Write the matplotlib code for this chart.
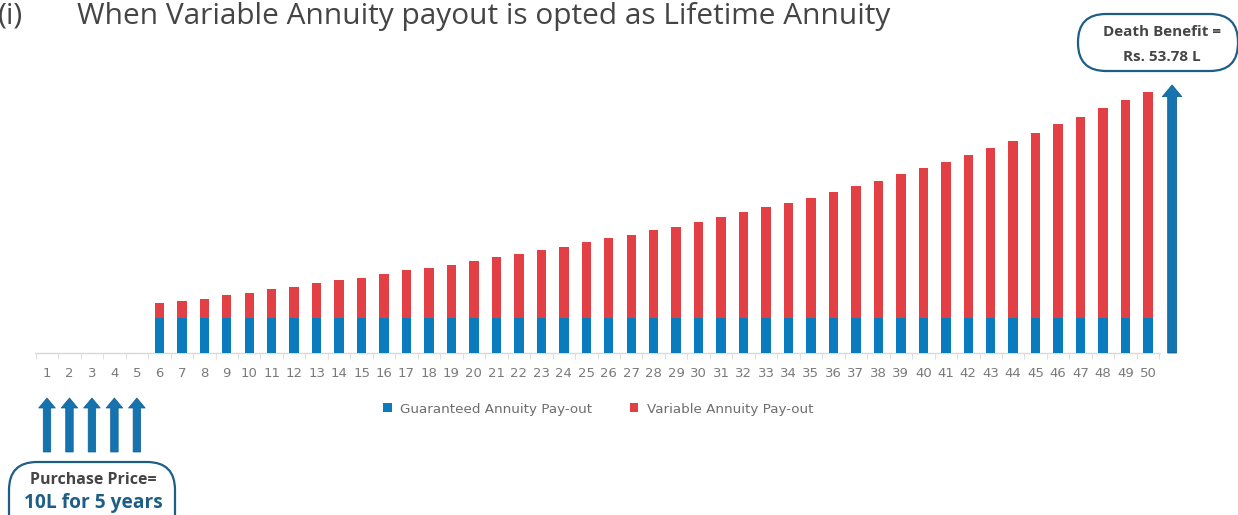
import matplotlib
matplotlib.use("Agg")
import matplotlib.pyplot as plt
from matplotlib.patches import FancyBboxPatch, FancyArrowPatch, ArrowStyle

# ---------------- data ----------------
years = list(range(1, 51))
guaranteed = [0, 0, 0, 0, 0] + [35] * 45
variable = [0, 0, 0, 0, 0,
            15, 17, 19, 23, 25, 29, 31, 35, 38, 40,
            44, 48, 50, 53, 57, 61, 64, 68, 71, 76,
            80, 83, 88, 91, 96, 101, 106, 111, 115, 120,
            126, 132, 137, 144, 150, 156, 163, 170, 177, 185,
            194, 201, 210, 218, 226]
purchase_years = [1, 2, 3, 4, 5]
death_benefit_pos = 51.07
death_benefit_height = 268
series_labels = ["Guaranteed Annuity Pay-out", "Variable Annuity Pay-out"]
title_prefix = "(i)"
title_text = "When Variable Annuity payout is opted as Lifetime Annuity"
death_lines = ["Death Benefit =", "Rs. 53.78 L"]
purchase_lines = ["Purchase Price=", "10L for 5 years"]

BLUE = "#0a7bbd"
RED = "#e24045"
ARROW = "#1573b0"
NAVY = "#1d5e86"
GRAY_TXT = "#454545"

W, H = 1238, 515
fig = plt.figure(figsize=(W / 100, H / 100), dpi=100)

base_px = 353
ax = fig.add_axes([0, (H - base_px) / H, 1, base_px / H])
x_per_px = 1 / 22.47
ax.set_xlim(1 - 47 * x_per_px, 1 + (W - 47) * x_per_px)
ax.set_ylim(0, base_px)

ax.bar(years, guaranteed, width=0.42, color=BLUE, label=series_labels[0], zorder=3)
ax.bar(years, variable, width=0.42, bottom=guaranteed, color=RED, label=series_labels[1], zorder=3)

for s in ["top", "right", "left"]:
    ax.spines[s].set_visible(False)
ax.spines["bottom"].set_color("#d9d9d9")
ax.spines["bottom"].set_linewidth(1.0)
ax.spines["bottom"].set_bounds(0.45, 50.55)
ax.set_yticks([])
ax.set_xticks(years)
ax.set_xticklabels([str(y) for y in years])
ax.set_xticks([y + 0.5 for y in [0] + years], minor=True)
ax.tick_params(axis="x", which="major", length=0, pad=10, labelsize=9.5, labelcolor="#7a7a7a")
ax.tick_params(axis="x", which="minor", length=4, color="#d9d9d9", direction="out")

# death benefit arrow
ax.add_patch(FancyArrowPatch((death_benefit_pos, 0), (death_benefit_pos, death_benefit_height),
                             arrowstyle=ArrowStyle.Simple(head_length=0.6, head_width=1.0, tail_width=0.45),
                             mutation_scale=14, color=ARROW, ec="#0f5f92", lw=0.6,
                             shrinkA=0, shrinkB=0, clip_on=False, zorder=4))

# purchase arrows
for py in purchase_years:
    ax.add_patch(FancyArrowPatch((py, -99), (py, -45),
                                 arrowstyle=ArrowStyle.Simple(head_length=0.6, head_width=1.0, tail_width=0.45),
                                 mutation_scale=12, color=ARROW, ec="#0f5f92", lw=0.5,
                                 shrinkA=0, shrinkB=0, clip_on=False, zorder=4))

# legend
leg = fig.legend(loc="center", bbox_to_anchor=(598 / W, 1 - 409 / H), ncol=2, frameon=False,
                 fontsize=9.7, handlelength=0.65, handleheight=0.65, handletextpad=0.6,
                 columnspacing=2.8, labelcolor="#6e6e6e")

# overlay in pixel coords
ov = fig.add_axes([0, 0, 1, 1], facecolor="none")
ov.set_xlim(0, W)
ov.set_ylim(H, 0)
ov.axis("off")

ov.text(-2, 24, title_prefix, fontsize=21.5, color=GRAY_TXT, family="Open Sans", va="baseline", ha="left")
ov.text(77, 24, title_text, fontsize=21.5, color=GRAY_TXT, family="Open Sans", va="baseline", ha="left")

ov.add_patch(FancyBboxPatch((1078, 14), 160, 57,
                            boxstyle="round,pad=0,rounding_size=28", fc="white", ec=NAVY, lw=1.6))
ov.text(1162, 32, death_lines[0], fontsize=11, fontweight="bold", color=GRAY_TXT,
        family="Open Sans", ha="center", va="center")
ov.text(1162, 57, death_lines[1], fontsize=11, fontweight="bold", color=GRAY_TXT,
        family="Open Sans", ha="center", va="center")

ov.add_patch(FancyBboxPatch((9, 462), 166, 80,
                            boxstyle="round,pad=0,rounding_size=28", fc="white", ec=NAVY, lw=1.6))
ov.text(93, 480, purchase_lines[0], fontsize=11.5, fontweight="bold", color=GRAY_TXT,
        family="Open Sans", ha="center", va="center")
ov.text(93, 503, purchase_lines[1], fontsize=13.8, fontweight="bold", color=NAVY,
        family="Open Sans", ha="center", va="center")

fig.savefig("out.png", dpi=100)
